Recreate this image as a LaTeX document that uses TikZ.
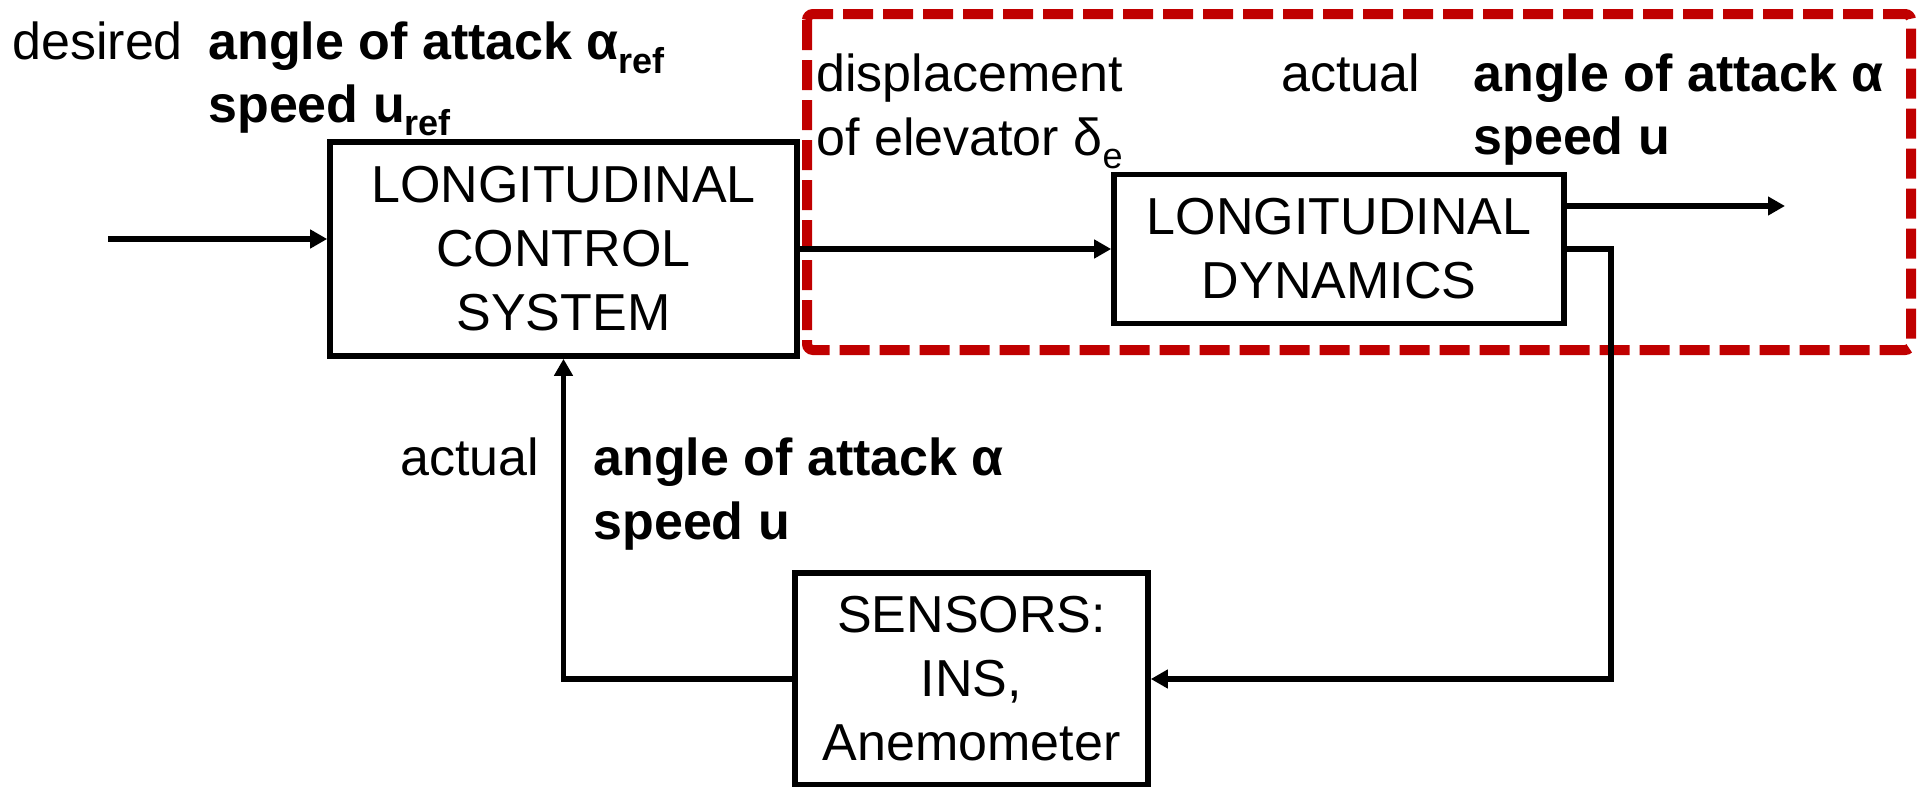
\documentclass[tikz,border=0pt]{standalone}
\usepackage{fontspec}
\setmainfont{Liberation Sans}
\usetikzlibrary{arrows.meta}
\definecolor{plant}{HTML}{C00000}
\newcommand\lowsub[1]{\raisebox{-6.5pt}{\fontsize{18}{20}\selectfont#1}}

\begin{document}
\begin{tikzpicture}[x=0.5pt,y=-0.5pt,font=\fontsize{26}{32}\selectfont,
  block/.style={draw,line width=2.8pt,inner sep=0pt,align=center},
  link/.style={line width=2.9pt,-{Triangle[length=8.5pt,width=9pt]}},
  lbl/.style={anchor=base west,inner sep=0pt}]
  \useasboundingbox (0,0) rectangle (1918,787);

  % plant boundary (dashed red frame)
  \draw[plant,line width=5pt,dash pattern=on 15pt off 5pt,rounded corners=3pt]
    (807,14) rectangle (1911,350);

  % blocks
  \node[block,minimum width=233.5pt,minimum height=107pt] (lcs) at (563.5,249)
    {LONGITUDINAL\\CONTROL\\SYSTEM};
  \node[block,minimum width=225pt,minimum height=74.5pt] (ld) at (1339,249)
    {LONGITUDINAL\\DYNAMICS};
  \node[block,minimum width=176.5pt,minimum height=106pt] (sens) at (971.5,679)
    {SENSORS:\\INS,\\Anemometer};

  % free ends
  \coordinate (in) at (108,239);
  \coordinate (out) at (1785,206);
  \coordinate (fbr) at (1611,679);

  % signals
  \draw[link] (in) -- (in -| lcs.west);
  \draw[link] (lcs.east) -- (ld.west);
  \draw[link] (out -| ld.east) -- (out);
  \draw[link] (ld.east) -| (fbr) -- (sens.east);
  \draw[link] (sens.west) -| (lcs.south);

  % labels
  \node[lbl] (des) at (12,60) {desired};
  \node[lbl] (refa) at (208,60) {\bfseries angle of attack α\lowsub{ref}};
  \node[lbl] (refu) at (208,122) {\bfseries speed u\lowsub{ref}};
  \node[lbl] (dspa) at (816,91) {displacement};
  \node[lbl] (dspb) at (816,155) {of elevator δ\lowsub{e}};
  \node[lbl] (acta) at (1281,91) {actual};
  \node[lbl] (outa) at (1473,91) {\bfseries angle of attack α};
  \node[lbl] (outu) at (1473,154) {\bfseries speed u};
  \node[lbl] (actb) at (400,475) {actual};
  \node[lbl] (fba) at (593,475) {\bfseries angle of attack α};
  \node[lbl] (fbu) at (593,539) {\bfseries speed u};
\end{tikzpicture}
\end{document}
